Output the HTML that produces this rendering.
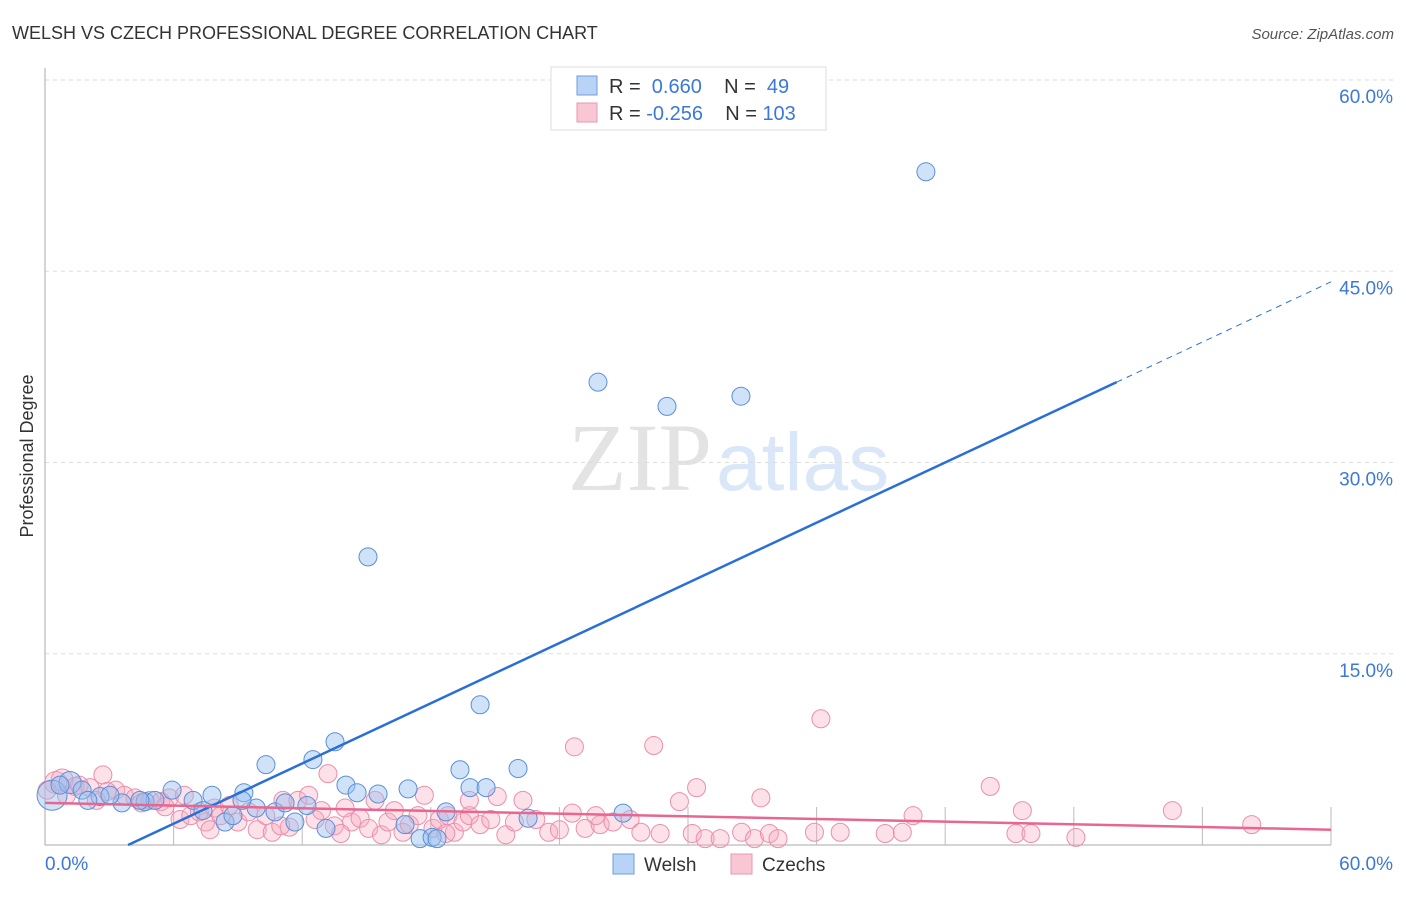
<!DOCTYPE html>
<html><head><meta charset="utf-8"><style>
body{margin:0;background:#fff;font-family:"Liberation Sans",sans-serif}
</style></head><body>
<svg id="chart" width="1406" height="892" xmlns="http://www.w3.org/2000/svg" font-family="Liberation Sans, sans-serif">
<text x="12" y="39" font-size="18" fill="#333">WELSH VS CZECH PROFESSIONAL DEGREE CORRELATION CHART</text>
<text x="1394" y="39" font-size="15" fill="#555" font-style="italic" text-anchor="end">Source: ZipAtlas.com</text>
<text x="712" y="490" font-size="96" text-anchor="end" fill="#e3e3e3" font-family="Liberation Serif, serif">ZIP</text>
<text x="716" y="490" font-size="82" fill="#dae7f8">atlas</text>
<text transform="translate(33,456) rotate(-90)" font-size="18" fill="#333" text-anchor="middle">Professional Degree</text>
<g id="grid"></g><g id="pts"></g><g id="lines"></g>
<g>
<rect x="551" y="67" width="275" height="63" fill="#fff" stroke="#ddd"/>
<rect x="577" y="76" width="20" height="19" fill="#b8d3f5" stroke="#6e9de0"/>
<text x="609" y="93" font-size="20" fill="#333">R = <tspan fill="#3b78d8">&#160;0.660</tspan>&#160;&#160;&#160; N = <tspan fill="#3b78d8">&#160;49</tspan></text>
<rect x="577" y="103" width="20" height="19" fill="#f9c6d4" stroke="#e99ab1"/>
<text x="609" y="120" font-size="20" fill="#333">R = <tspan fill="#3b78d8">-0.256</tspan>&#160;&#160;&#160; N = <tspan fill="#3b78d8">103</tspan></text>
</g>
<g>
<rect x="613" y="854" width="21" height="20" fill="#b8d3f5" stroke="#6e9de0"/>
<text x="644" y="871" font-size="19" fill="#333">Welsh</text>
<rect x="731" y="854" width="21" height="20" fill="#f9c6d4" stroke="#e99ab1"/>
<text x="762" y="871" font-size="19" fill="#333">Czechs</text>
</g>
</svg>
<script>
const yTicks=[15,30,45,60];
const xTickCount=10;
const welshX=[0.33,1.17,1.73,2.57,3.59,4.67,5.13,5.93,6.91,7.79,7.37,8.4,8.77,9.28,9.85,10.31,10.73,11.2,11.66,12.22,12.5,13.11,13.53,14.04,14.56,15.07,15.54,16.94,17.5,18.06,18.71,19.36,19.83,20.3,20.58,22.07,22.54,25.8,26.97,29.02,32.47,41.1,18.29,16.8,9.19,4.43,3.03,0.7,2.0];
const welshY=[3.9,4.9,4.3,3.8,3.3,3.4,3.5,4.3,3.5,3.9,2.7,1.8,2.3,4.1,2.9,6.3,2.6,3.3,1.8,3.1,6.7,1.3,8.1,4.7,4.1,22.6,4.0,4.4,0.5,0.6,2.6,5.9,4.5,11.0,4.5,6.0,2.1,36.3,2.5,34.4,35.2,52.8,0.5,1.6,3.5,3.5,3.9,4.7,3.5];
const czechX=[0.5,0.8,1.4,2.1,2.7,3.3,3.7,4.2,4.9,5.4,5.8,6.3,6.8,7.2,7.5,7.9,8.2,8.6,9.0,9.5,9.9,10.3,10.6,11.1,11.4,11.8,12.3,12.6,12.9,13.2,13.5,14.0,14.3,14.7,15.1,15.4,15.7,16.0,16.3,16.7,17.0,17.4,17.7,18.1,18.4,18.8,19.1,19.5,19.8,20.3,20.8,21.1,21.5,21.9,22.3,22.9,23.5,24.6,24.7,25.2,25.9,26.5,27.3,27.8,28.4,28.7,29.6,30.2,30.4,30.8,31.5,32.5,33.1,33.4,33.8,34.2,35.9,36.2,37.1,39.2,40.0,40.5,44.1,45.3,45.6,46.0,48.1,52.6,56.3,0.1,1.0,1.6,2.4,2.9,4.5,5.6,6.5,7.7,11.0,13.8,18.7,19.8,24.0,25.7];
const czechY=[4.9,5.1,4.6,4.5,5.5,4.3,3.9,3.7,3.5,3.4,3.7,2.0,2.3,2.6,1.8,2.9,2.3,3.1,1.8,2.6,1.2,2.3,1.0,3.5,1.4,3.5,3.9,2.0,2.7,5.6,1.5,2.9,1.8,2.1,1.3,3.5,0.8,1.8,2.7,1.0,1.6,2.3,3.9,1.3,2.0,2.3,1.0,1.8,2.3,1.6,2.0,3.8,0.8,1.8,3.5,2.0,1.0,2.5,7.7,1.3,1.6,1.8,2.0,1.0,7.8,0.9,3.4,0.9,4.5,0.5,0.5,1.0,0.5,3.7,0.9,0.5,1.0,9.9,1.0,0.9,1.0,2.3,4.6,0.9,2.7,0.9,0.6,2.7,1.6,4.3,3.9,4.7,3.5,4.2,3.3,3.0,3.9,1.2,1.5,0.9,0.9,3.5,1.2,2.3];
const welshTrend=[-3.05,0.787];
const czechTrend=[3.3,-0.035];
const X0=45,X1=1331,Y0=845,Y1=80;
const sx=v=>X0+(v/60)*(X1-X0), sy=v=>Y0-(v/60)*(Y0-Y1);
const NS="http://www.w3.org/2000/svg";
function mk(t,a,p){const e=document.createElementNS(NS,t);for(const k in a)e.setAttribute(k,a[k]);p.appendChild(e);return e;}
const grid=document.getElementById('grid');
yTicks.forEach(t=>{
 const l=mk('line',{x1:X0,x2:1394,y1:sy(t),y2:sy(t),stroke:'#ddd','stroke-dasharray':'4,4'},grid);
 
 
 const tx=mk('text',{x:1393,y:sy(t)+23,'font-size':19,fill:'#3b78d8','text-anchor':'end'},grid);tx.textContent=t.toFixed(1)+'%';
 
 
});
mk('line',{x1:X0,x2:X0,y1:68,y2:Y0,stroke:'#aaa'},grid);
mk('line',{x1:X0,x2:X1,y1:Y0,y2:Y0,stroke:'#aaa'},grid);
for(let i=1;i<=xTickCount;i++){const x=sx(i*6);mk('line',{x1:x,x2:x,y1:Y0,y2:Y0-38,stroke:'#bbb'},grid);}
const x0l=mk('text',{x:45,y:870,'font-size':19,fill:'#3b78d8'},grid);x0l.textContent='0.0%';


const x1l=mk('text',{x:1393,y:870,'font-size':19,fill:'#3b78d8','text-anchor':'end'},grid);x1l.textContent='60.0%';


const pts=document.getElementById('pts');
czechX.forEach((v,i)=>{const c=mk('circle',{cx:sx(v),cy:sy(czechY[i]),r:i<2?11:9,fill:'rgba(246,170,192,0.35)',stroke:'#eb8fab','stroke-width':1},pts);
 
 });
welshX.forEach((v,i)=>{const c=mk('circle',{cx:sx(v),cy:sy(welshY[i]),r:i==0?15:(i==1?11:9),fill:'rgba(150,190,240,0.45)',stroke:'#5b8fd9','stroke-width':1},pts);
 
 });
const ln=document.getElementById('lines');
const xs=-welshTrend[0]/welshTrend[1];
const bl=mk('line',{x1:sx(xs),y1:sy(0),x2:sx(50),y2:sy(welshTrend[0]+welshTrend[1]*50),stroke:'#2a6fd8','stroke-width':2.5},ln);


const bd=mk('line',{x1:sx(50),y1:sy(welshTrend[0]+welshTrend[1]*50),x2:sx(60),y2:sy(welshTrend[0]+welshTrend[1]*60),stroke:'#2a6fd8','stroke-width':1,'stroke-dasharray':'6,5'},ln);


const pl=mk('line',{x1:sx(0),y1:sy(czechTrend[0]),x2:sx(60),y2:sy(czechTrend[0]+czechTrend[1]*60),stroke:'#e8668f','stroke-width':2.5},ln);


</script>
</body></html>
